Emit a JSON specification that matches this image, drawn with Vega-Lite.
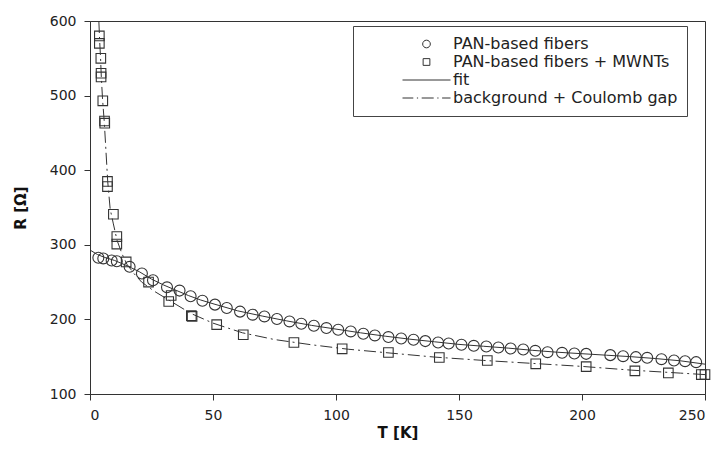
{
  "$schema": "https://vega.github.io/schema/vega-lite/v6.json",
  "width": 615,
  "height": 373,
  "autosize": "none",
  "padding": {"left": 90, "top": 21, "right": 14, "bottom": 59},
  "background": "white",
  "config": {
    "view": {"stroke": "#333", "strokeWidth": 1},
    "font": "DejaVu Sans",
    "axis": {
      "grid": false, "domainColor": "#333", "tickColor": "#333", "tickSize": 6,
      "labelPadding": 8, "labelFont": "DejaVu Sans", "labelFontSize": 14, "labelColor": "#222",
      "titleFont": "DejaVu Sans", "titleFontSize": 15, "titleFontWeight": "bold", "titleColor": "#111"
    }
  },
  "datasets": {
    "fit": [
      {"T": 0, "R": 293}, {"T": 3, "R": 287}, {"T": 6, "R": 283}, {"T": 10, "R": 279}, {"T": 15, "R": 272},
      {"T": 20, "R": 264}, {"T": 25, "R": 254}, {"T": 30, "R": 246}, {"T": 35, "R": 239}, {"T": 40, "R": 232},
      {"T": 45, "R": 226}, {"T": 50, "R": 221}, {"T": 60, "R": 211.5}, {"T": 70, "R": 204.5}, {"T": 80, "R": 198},
      {"T": 90, "R": 192}, {"T": 100, "R": 187}, {"T": 110, "R": 182}, {"T": 120, "R": 177.5}, {"T": 130, "R": 173.5},
      {"T": 140, "R": 170}, {"T": 150, "R": 166.5}, {"T": 160, "R": 164}, {"T": 170, "R": 161.5}, {"T": 180, "R": 158.5},
      {"T": 190, "R": 156}, {"T": 200, "R": 154}, {"T": 210, "R": 152}, {"T": 220, "R": 150}, {"T": 230, "R": 147.5},
      {"T": 240, "R": 144.5}, {"T": 250, "R": 140}
    ],
    "coulomb": [
      {"T": 3.6, "R": 600}, {"T": 3.9, "R": 575}, {"T": 4.3, "R": 550}, {"T": 4.6, "R": 525}, {"T": 5.1, "R": 495},
      {"T": 5.8, "R": 465}, {"T": 6.5, "R": 425}, {"T": 7.2, "R": 385}, {"T": 8.2, "R": 348}, {"T": 9.5, "R": 328},
      {"T": 11, "R": 306}, {"T": 13, "R": 288}, {"T": 15, "R": 274}, {"T": 18, "R": 261}, {"T": 21, "R": 250},
      {"T": 26, "R": 238}, {"T": 32, "R": 226}, {"T": 41, "R": 208}, {"T": 50, "R": 195}, {"T": 62, "R": 182},
      {"T": 75, "R": 173}, {"T": 90, "R": 166}, {"T": 105, "R": 160}, {"T": 120, "R": 155.5}, {"T": 140, "R": 149.5},
      {"T": 160, "R": 145}, {"T": 180, "R": 141}, {"T": 200, "R": 137}, {"T": 220, "R": 132}, {"T": 240, "R": 128},
      {"T": 250, "R": 126}
    ],
    "points": [
      {"series": "PAN-based fibers", "T": 3.4, "R": 282.6}, {"series": "PAN-based fibers", "T": 5.4, "R": 281.7},
      {"series": "PAN-based fibers", "T": 8.8, "R": 279}, {"series": "PAN-based fibers", "T": 10.9, "R": 278},
      {"series": "PAN-based fibers", "T": 16.1, "R": 270.5}, {"series": "PAN-based fibers", "T": 21.1, "R": 261.5},
      {"series": "PAN-based fibers", "T": 25.6, "R": 252.5}, {"series": "PAN-based fibers", "T": 31.3, "R": 243},
      {"series": "PAN-based fibers", "T": 36.4, "R": 238.6}, {"series": "PAN-based fibers", "T": 40.9, "R": 231},
      {"series": "PAN-based fibers", "T": 45.7, "R": 225}, {"series": "PAN-based fibers", "T": 50.8, "R": 219.8},
      {"series": "PAN-based fibers", "T": 55.6, "R": 215.3}, {"series": "PAN-based fibers", "T": 61, "R": 210.4},
      {"series": "PAN-based fibers", "T": 66.1, "R": 206.3}, {"series": "PAN-based fibers", "T": 70.9, "R": 204},
      {"series": "PAN-based fibers", "T": 76, "R": 200.5}, {"series": "PAN-based fibers", "T": 81.1, "R": 197.3},
      {"series": "PAN-based fibers", "T": 85.9, "R": 194.2}, {"series": "PAN-based fibers", "T": 91, "R": 191.5},
      {"series": "PAN-based fibers", "T": 96.1, "R": 188.4}, {"series": "PAN-based fibers", "T": 100.9, "R": 186.1},
      {"series": "PAN-based fibers", "T": 106, "R": 183.9}, {"series": "PAN-based fibers", "T": 111.1, "R": 180.8},
      {"series": "PAN-based fibers", "T": 115.8, "R": 178.5}, {"series": "PAN-based fibers", "T": 121.3, "R": 176.3},
      {"series": "PAN-based fibers", "T": 126.5, "R": 174.4}, {"series": "PAN-based fibers", "T": 131.5, "R": 172.7},
      {"series": "PAN-based fibers", "T": 136.3, "R": 170.9}, {"series": "PAN-based fibers", "T": 141.5, "R": 169},
      {"series": "PAN-based fibers", "T": 145.8, "R": 167.7}, {"series": "PAN-based fibers", "T": 151, "R": 166},
      {"series": "PAN-based fibers", "T": 156, "R": 164.6}, {"series": "PAN-based fibers", "T": 161.1, "R": 163.7},
      {"series": "PAN-based fibers", "T": 166, "R": 162.3}, {"series": "PAN-based fibers", "T": 171, "R": 161},
      {"series": "PAN-based fibers", "T": 176.1, "R": 159.6}, {"series": "PAN-based fibers", "T": 181, "R": 157.9},
      {"series": "PAN-based fibers", "T": 186, "R": 156.1}, {"series": "PAN-based fibers", "T": 191.9, "R": 155.2},
      {"series": "PAN-based fibers", "T": 196.9, "R": 154.3}, {"series": "PAN-based fibers", "T": 201.7, "R": 153.8},
      {"series": "PAN-based fibers", "T": 211.5, "R": 152.1}, {"series": "PAN-based fibers", "T": 216.7, "R": 150.7},
      {"series": "PAN-based fibers", "T": 221.9, "R": 149.4}, {"series": "PAN-based fibers", "T": 226.5, "R": 148.5},
      {"series": "PAN-based fibers", "T": 232.3, "R": 146.7}, {"series": "PAN-based fibers", "T": 237.4, "R": 144.9},
      {"series": "PAN-based fibers", "T": 241.9, "R": 144}, {"series": "PAN-based fibers", "T": 246.4, "R": 142.7},
      {"series": "PAN-based fibers + MWNTs", "T": 3.8, "R": 580}, {"series": "PAN-based fibers + MWNTs", "T": 3.8, "R": 570},
      {"series": "PAN-based fibers + MWNTs", "T": 4.4, "R": 550}, {"series": "PAN-based fibers + MWNTs", "T": 4.5, "R": 530},
      {"series": "PAN-based fibers + MWNTs", "T": 4.5, "R": 525}, {"series": "PAN-based fibers + MWNTs", "T": 5.2, "R": 493},
      {"series": "PAN-based fibers + MWNTs", "T": 5.9, "R": 466}, {"series": "PAN-based fibers + MWNTs", "T": 6, "R": 463},
      {"series": "PAN-based fibers + MWNTs", "T": 7.1, "R": 385}, {"series": "PAN-based fibers + MWNTs", "T": 7.1, "R": 378},
      {"series": "PAN-based fibers + MWNTs", "T": 9.5, "R": 341}, {"series": "PAN-based fibers + MWNTs", "T": 10.9, "R": 311},
      {"series": "PAN-based fibers + MWNTs", "T": 10.9, "R": 301}, {"series": "PAN-based fibers + MWNTs", "T": 14.7, "R": 277},
      {"series": "PAN-based fibers + MWNTs", "T": 23.8, "R": 250}, {"series": "PAN-based fibers + MWNTs", "T": 32, "R": 224},
      {"series": "PAN-based fibers + MWNTs", "T": 33, "R": 232}, {"series": "PAN-based fibers + MWNTs", "T": 41.2, "R": 205},
      {"series": "PAN-based fibers + MWNTs", "T": 41.5, "R": 204}, {"series": "PAN-based fibers + MWNTs", "T": 51.5, "R": 193},
      {"series": "PAN-based fibers + MWNTs", "T": 62.3, "R": 179.4}, {"series": "PAN-based fibers + MWNTs", "T": 82.9, "R": 169},
      {"series": "PAN-based fibers + MWNTs", "T": 102.5, "R": 160.6}, {"series": "PAN-based fibers + MWNTs", "T": 121.3, "R": 155.6},
      {"series": "PAN-based fibers + MWNTs", "T": 142, "R": 148.9}, {"series": "PAN-based fibers + MWNTs", "T": 161.5, "R": 144.9},
      {"series": "PAN-based fibers + MWNTs", "T": 181.2, "R": 140.4}, {"series": "PAN-based fibers + MWNTs", "T": 201.7, "R": 136.7},
      {"series": "PAN-based fibers + MWNTs", "T": 221.5, "R": 131}, {"series": "PAN-based fibers + MWNTs", "T": 235.1, "R": 128.3},
      {"series": "PAN-based fibers + MWNTs", "T": 248.5, "R": 126}, {"series": "PAN-based fibers + MWNTs", "T": 250, "R": 126}
    ]
  },
  "encoding": {
    "x": {
      "field": "T", "type": "quantitative",
      "scale": {"domain": [0, 250], "nice": false},
      "axis": {"title": "T [K]", "values": [0, 50, 100, 150, 200, 250], "titleY": 31}
    },
    "y": {
      "field": "R", "type": "quantitative",
      "scale": {"domain": [100, 600], "nice": false, "zero": false},
      "axis": {"title": "R [Ω]", "values": [100, 200, 300, 400, 500, 600], "titleX": -62, "titleY": 186.5}
    }
  },
  "layer": [
    {
      "data": {"name": "fit"},
      "mark": {"type": "line", "color": "#333", "strokeWidth": 1, "clip": true}
    },
    {
      "data": {"name": "coulomb"},
      "mark": {"type": "line", "color": "#333", "strokeWidth": 1, "strokeDash": [12, 4, 2, 4], "clip": true}
    },
    {
      "data": {"name": "points"},
      "mark": {"type": "point", "filled": false, "size": 4680, "color": "#333", "strokeWidth": 1.1, "opacity": 1},
      "encoding": {
        "shape": {
          "field": "series", "type": "nominal",
          "scale": {
            "domain": ["PAN-based fibers", "PAN-based fibers + MWNTs", "fit", "background + Coulomb gap"],
            "range": [
              "M0.16,0A0.16,0.16 0 1,1 -0.16,0A0.16,0.16 0 1,1 0.16,0Z",
              "M-0.14,-0.14H0.14V0.14H-0.14Z",
              "M-1,0H1",
              "M-1,0H-0.55M-0.4,0H-0.35M-0.2,0H0.3M0.45,0H0.5M0.65,0H1"
            ]
          },
          "legend": {
            "title": null, "orient": "none", "legendX": 263, "legendY": 5,
            "padding": 9, "strokeColor": "#444", "fillColor": "white",
            "symbolSize": 2304, "symbolStrokeWidth": 1, "symbolStrokeColor": "#333", "symbolFillColor": "transparent",
            "symbolOffset": 40, "labelOffset": 2, "labelFont": "DejaVu Sans", "labelFontSize": 16, "labelColor": "#222",
            "clipHeight": 18, "rowPadding": 0, "labelLimit": 400
          }
        }
      }
    }
  ]
}
